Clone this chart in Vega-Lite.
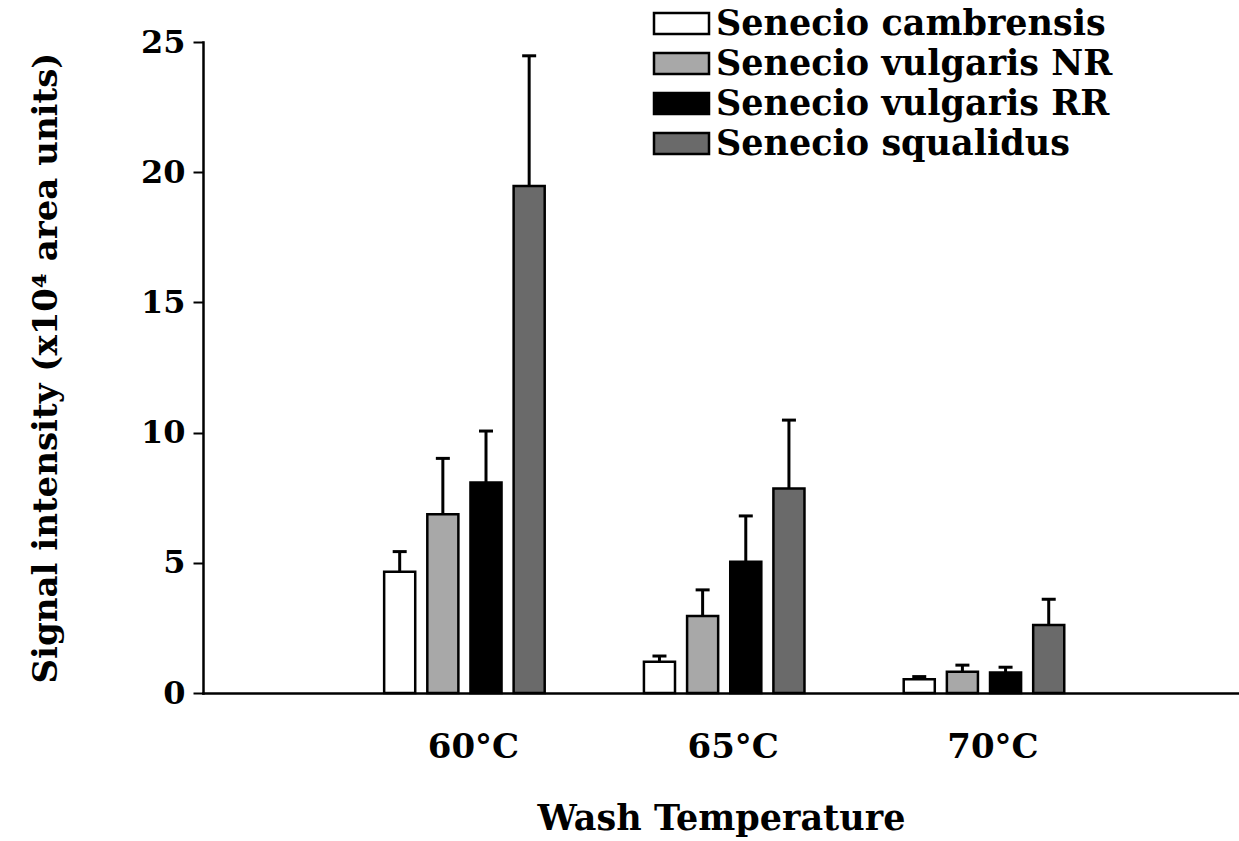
{
  "$schema": "https://vega.github.io/schema/vega-lite/v6.json",
  "width": 1036,
  "height": 651,
  "autosize": {"type": "none"},
  "padding": {"left": 203, "top": 42, "right": 0, "bottom": 148},
  "background": "white",
  "data": {
    "values": [
      {"temp": "60°C", "species": "Senecio cambrensis", "value": 4.66, "upper": 5.43},
      {"temp": "60°C", "species": "Senecio vulgaris NR", "value": 6.86, "upper": 9.01},
      {"temp": "60°C", "species": "Senecio vulgaris RR", "value": 8.08, "upper": 10.06},
      {"temp": "60°C", "species": "Senecio squalidus", "value": 19.47, "upper": 24.47},
      {"temp": "65°C", "species": "Senecio cambrensis", "value": 1.2, "upper": 1.42},
      {"temp": "65°C", "species": "Senecio vulgaris NR", "value": 2.96, "upper": 3.96},
      {"temp": "65°C", "species": "Senecio vulgaris RR", "value": 5.04, "upper": 6.8},
      {"temp": "65°C", "species": "Senecio squalidus", "value": 7.85, "upper": 10.48},
      {"temp": "70°C", "species": "Senecio cambrensis", "value": 0.53, "upper": 0.63},
      {"temp": "70°C", "species": "Senecio vulgaris NR", "value": 0.82, "upper": 1.07},
      {"temp": "70°C", "species": "Senecio vulgaris RR", "value": 0.79, "upper": 0.99},
      {"temp": "70°C", "species": "Senecio squalidus", "value": 2.61, "upper": 3.6}
    ]
  },
  "encoding": {
    "x": {
      "field": "temp",
      "type": "nominal",
      "sort": ["60°C", "65°C", "70°C"],
      "title": "Wash Temperature",
      "scale": {"paddingInner": 0.382, "paddingOuter": 0.685, "align": 0.509},
      "axis": {
        "labels": false,
        "ticks": false,
        "domainColor": "black",
        "domainWidth": 2.5,
        "titleFont": "DejaVu Serif",
        "titleFontWeight": "bold",
        "titleFontSize": 35,
        "titleColor": "black",
        "titlePadding": 108
      }
    }
  },
  "layer": [
    {
      "mark": {"type": "bar", "stroke": "black", "strokeWidth": 2.5, "opacity": 1},
      "encoding": {
        "xOffset": {
          "field": "species",
          "type": "nominal",
          "sort": ["Senecio cambrensis", "Senecio vulgaris NR", "Senecio vulgaris RR", "Senecio squalidus"],
          "scale": {"paddingInner": 0.28, "paddingOuter": 0}
        },
        "y": {
          "field": "value",
          "type": "quantitative",
          "title": "Signal intensity (x10⁴ area units)",
          "scale": {"domain": [0, 25], "nice": false},
          "axis": {
            "values": [0, 5, 10, 15, 20, 25],
            "grid": false,
            "domainColor": "black",
            "domainWidth": 2.5,
            "tickColor": "black",
            "tickWidth": 2,
            "tickSize": 10,
            "labelFont": "DejaVu Serif",
            "labelFontWeight": "bold",
            "labelFontSize": 32,
            "labelColor": "black",
            "labelPadding": 8,
            "titleFont": "DejaVu Serif",
            "titleFontWeight": "bold",
            "titleFontSize": 34,
            "titleColor": "black",
            "titlePadding": 77
          }
        },
        "fill": {
          "field": "species",
          "type": "nominal",
          "sort": ["Senecio cambrensis", "Senecio vulgaris NR", "Senecio vulgaris RR", "Senecio squalidus"],
          "scale": {
            "domain": ["Senecio cambrensis", "Senecio vulgaris NR", "Senecio vulgaris RR", "Senecio squalidus"],
            "range": ["#ffffff", "#a8a8a8", "#000000", "#6a6a6a"]
          },
          "legend": {
            "title": null,
            "orient": "none",
            "legendX": 461,
            "legendY": -36,
            "padding": 0,
            "symbolType": "M-5.5,-2.1H5.5V2.1H-5.5Z",
            "symbolSize": 100,
            "symbolStrokeColor": "black",
            "symbolStrokeWidth": 2.5,
            "symbolOpacity": 1,
            "labelFont": "DejaVu Serif",
            "labelFontWeight": "bold",
            "labelFontSize": 35,
            "labelColor": "black",
            "labelOffset": 17,
            "rowPadding": 4,
            "labelLimit": 600
          }
        }
      }
    },
    {
      "mark": {"type": "rule", "strokeWidth": 3, "color": "black"},
      "encoding": {
        "xOffset": {
          "field": "species",
          "type": "nominal",
          "sort": ["Senecio cambrensis", "Senecio vulgaris NR", "Senecio vulgaris RR", "Senecio squalidus"]
        },
        "y": {"field": "value", "type": "quantitative", "title": "Signal intensity (x10⁴ area units)"},
        "y2": {"field": "upper"}
      }
    },
    {
      "mark": {"type": "tick", "size": 14, "thickness": 3, "color": "black", "opacity": 1},
      "encoding": {
        "xOffset": {
          "field": "species",
          "type": "nominal",
          "sort": ["Senecio cambrensis", "Senecio vulgaris NR", "Senecio vulgaris RR", "Senecio squalidus"]
        },
        "y": {"field": "upper", "type": "quantitative", "title": "Signal intensity (x10⁴ area units)"}
      }
    },
    {
      "transform": [{"filter": "datum.species === 'Senecio cambrensis'"}],
      "mark": {"type": "text", "font": "DejaVu Serif", "fontWeight": "bold", "fontSize": 34, "color": "black", "baseline": "middle", "align": "center", "dx": 9, "dy": 55},
      "encoding": {
        "text": {"field": "temp"},
        "y": {"datum": 0, "type": "quantitative"}
      }
    }
  ],
  "config": {
    "view": {"stroke": null},
    "axis": {"domainCap": "square"}
  }
}
